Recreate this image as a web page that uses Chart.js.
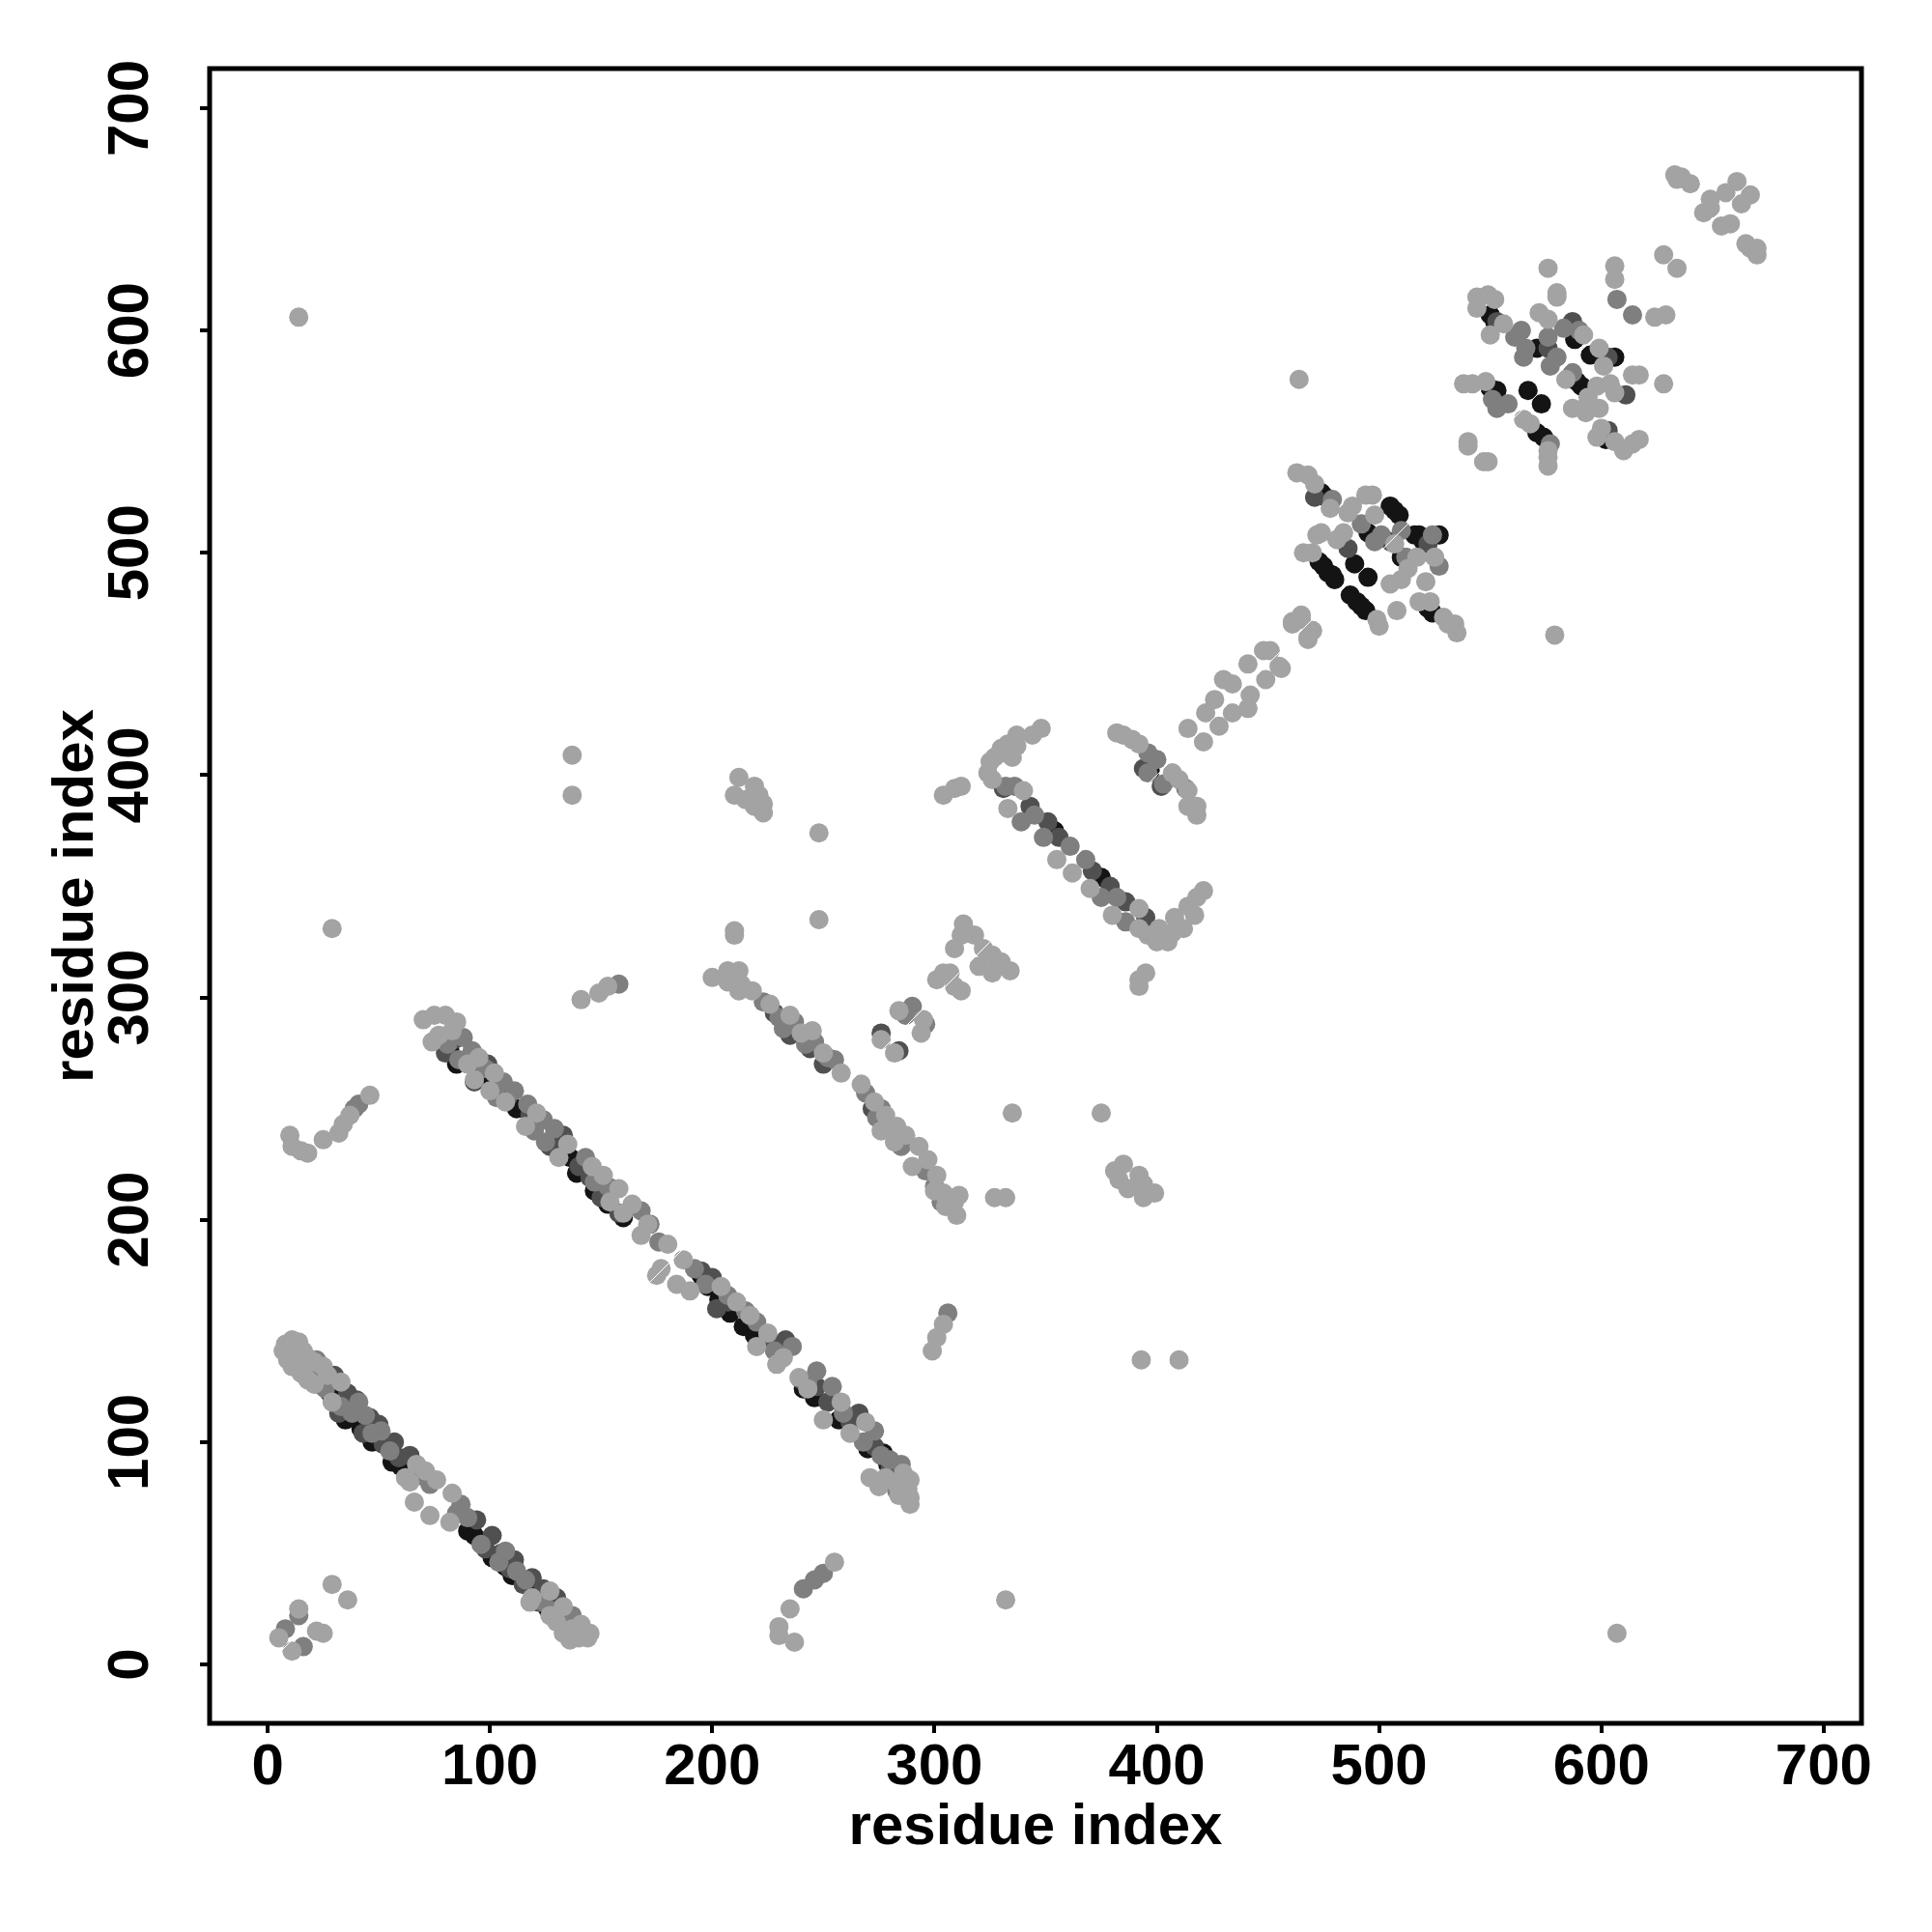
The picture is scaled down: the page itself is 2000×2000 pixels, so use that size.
<!DOCTYPE html>
<html>
<head>
<meta charset="utf-8">
<style>
  html, body { margin: 0; padding: 0; background: #fff; }
  canvas { display: block; }
</style>
<script src="https://cdn.jsdelivr.net/npm/chart.js@4/dist/chart.umd.min.js"></script>
</head>
<body>
<canvas id="contactMap" width="2000" height="2000"></canvas>
<script>
const tickValues = [0, 100, 200, 300, 400, 500, 600, 700];
const axisTitle = 'residue index';
const diagonalPoints = [[0, 0], [700, 700]];

// contacts, [residue x, residue y], grouped by shade
const lightPoints = [
  // corner + stray
  [5,12],[11,6],[14,25],[25,14],[22,15],[29,36],[36,29],[14,606],[607,14],[29,331],[332,29],
  [137,409],[137,391],[393,137],[410,137],[248,374],[248,335],[335,248],[375,248],[464,578],[579,463],
  // first band
  [7,141],[9,137],[8,144],[11,146],[14,145],[12,139],[11,134],[15,131],[16,141],[18,138],[21,136],[18,128],[21,126],
  [25,134],[27,130],[29,118],[33,127],[62,84],[67,90],[71,87],[76,83],[83,77],[66,73],[73,67],[82,64],[64,82],
  [127,33],[133,26],[141,18],[144,12],[140,12],[136,11],[133,14],[130,19],[127,22],[119,30],[145,14],[139,15],[137,16],[118,28],
  // second band
  [70,290],[75,292],[80,292],[85,289],[77,283],[74,280],[83,285],[95,273],[90,270],[93,263],[102,266],[100,258],[107,253],
  [121,248],[116,242],[135,234],[131,228],[146,224],[151,220],[158,214],[154,208],[164,207],[160,203],[171,198],[168,193],
  [180,189],[187,182],[177,178],[175,175],[184,171],[190,168],[204,170],[211,163],[217,157],[225,149],[220,143],[232,138],
  [229,135],[239,129],[243,124],[258,118],[269,109],[250,110],[262,104],[286,86],[289,83],[288,79],[289,75],[283,81],[278,84],
  [275,80],[271,84],[289,72],[284,76],
  // arcs next to the second band
  [10,238],[11,233],[15,231],[18,230],[25,236],[32,239],[34,243],[37,247],[46,256],[230,17],[230,13],[237,10],[235,25],[255,46],
  [141,299],[149,302],[153,305],[299,141],[301,147],[304,153],
  // third band
  [200,309],[207,312],[212,312],[207,307],[213,306],[212,303],[218,303],[226,297],[235,292],[245,285],[240,284],[250,275],
  [258,266],[267,261],[273,253],[278,247],[283,242],[282,235],[293,233],[297,227],[301,220],[304,212],[309,208],[310,202],
  [305,206],[311,211],[300,213],[287,238],[276,240],[290,224],
  // small islands
  [210,391],[212,399],[219,395],[215,389],[219,386],[223,387],[223,383],[221,391],[381,222],[385,225],[383,218],[387,214],
  [392,220],[394,216],[394,210],[399,212],[327,210],[332,210],[210,330],[210,328],
  [276,281],[284,294],[295,290],[294,284],[282,275],
  [301,308],[307,311],[313,333],[312,328],[309,322],[318,328],[322,322],[326,319],[330,316],[334,312],[320,314],[326,311],
  [312,303],[304,311],[309,305],[304,391],[309,394],[312,395],[392,305],[395,311],[392,308],
  // hairpin
  [348,421],[344,418],[337,418],[333,414],[330,412],[337,413],[335,408],[325,406],[324,401],[326,398],[332,410],[327,408],
  [340,393],[333,385],[355,362],[362,356],[370,349],[380,337],[392,340],[392,331],[396,328],[400,325],[405,325],
  [421,348],[418,345],[414,341],[417,337],[408,336],[412,331],[407,329],[401,331],
  [382,419],[385,418],[389,416],[392,414],[407,401],[414,393],[418,386],[414,386],[418,382],[410,398],
  // along the diagonal
  [414,421],[422,428],[421,415],[428,422],[426,434],[430,443],[434,441],[441,450],[448,456],[451,456],[434,428],[442,436],
  [441,430],[449,443],[456,448],[455,449],[461,469],[465,470],[468,462],[470,465],[461,468],[465,472],[470,465],[468,461],
  // block at 500
  [463,536],[468,535],[471,531],[478,520],[488,521],[486,518],[494,526],[497,526],[498,517],[474,509],[472,508],[484,509],[481,506],
  [466,500],[470,500],[499,470],[500,467],[508,474],[507,504],[513,493],[505,486],[510,488],[517,498],[525,498],[521,487],[518,478],
  [523,478],[529,471],[534,468],[535,464],[531,468],[540,548],[547,541],[540,550],[549,541],
  // block at 580
  [538,576],[542,576],[548,577],[549,616],[544,615],[552,614],[544,610],[556,603],[550,598],[568,558],[576,546],[576,539],[576,543],
  [572,608],[576,605],[580,615],[580,617],[576,628],[592,598],[599,592],[601,584],[584,578],[598,575],[604,576],[606,572],[614,580],
  [617,580],[628,576],[587,565],[592,565],[599,565],[594,570],[593,563],[600,556],[606,550],[614,549],[610,546],[598,552],[617,551],
  [606,629],[606,623],[628,634],[634,628],[624,606],[629,607],[565,560],
  // top right
  [633,670],[636,669],[640,666],[634,668],[661,667],[656,662],[667,661],[663,657],[649,659],[646,653],[649,655],[654,647],[658,648],
  [670,637],[665,639],[670,634],[667,637]
];

const midPoints = [
  [8,16],[16,8],[14,22],[13,137],[22,137],[20,131],[23,126],[26,124],[38,113],[33,116],[41,118],[44,112],[47,104],[51,105],[55,96],
  [68,85],[73,81],[87,72],[90,66],[85,68],[107,51],[104,46],[112,42],[116,38],[124,28],[137,22],[128,24],[131,20],[96,54],
  [88,282],[81,279],[92,276],[86,272],[98,268],[106,262],[111,258],[103,255],[117,252],[124,245],[129,241],[120,240],[125,235],
  [143,228],[147,217],[153,215],[168,204],[172,198],[176,190],[192,178],[197,171],[207,166],[215,159],[220,154],[236,143],[228,141],
  [247,132],[254,125],[243,127],[259,113],[273,105],[268,100],[280,92],[285,90],[276,94],[283,78],
  [39,250],[41,252],[241,34],[246,38],[250,41],[158,306],[306,158],
  [223,298],[230,291],[232,286],[237,289],[246,280],[242,279],[252,273],[255,272],[269,257],[276,250],[274,246],[280,240],[285,233],
  [296,222],[300,215],[303,208],
  [290,296],[287,292],[296,288],[339,379],[345,382],[361,368],[368,362],[375,345],[382,345],[386,334],[349,372],
  [396,410],[400,407],[396,401],[403,396],[413,394],[332,395],[336,395],
  [479,524],[510,510],[524,508],[501,508],[498,505],[492,513],[527,494],[512,498],
  [558,567],[551,569],[553,565],[564,600],[561,597],[565,588],[566,592],[576,597],[580,588],[577,584],[577,549],[583,601],
  [607,614],[614,607],[587,581],[590,600]
];

const darkPoints = [
  [25,125],[30,130],[36,122],[40,119],[32,113],[46,111],[50,108],[43,104],[57,100],[52,99],[64,94],[59,93],[94,65],[101,58],[111,47],
  [119,39],[105,50],[98,52],[109,43],[115,36],[124,34],[130,30],[122,28],
  [84,281],[80,275],[99,270],[93,262],[108,255],[118,247],[130,239],[133,238],[127,233],[145,219],[155,214],[150,210],[140,224],
  [158,203],[195,177],[200,174],[207,163],[202,160],[233,146],[225,147],[240,128],[247,125],[252,118],[266,113],[262,109],[273,98],[280,88],
  [228,293],[235,283],[244,277],[250,270],[272,250],[283,236],
  [276,284],[284,276],
  [343,386],[351,379],[356,372],[371,357],[379,350],[386,343],[395,336],[394,403],[402,395],[331,394],
  [471,525],[486,502],[522,504],[505,505],[553,604],[603,588],[603,555],[587,604],[611,571],[576,592]
];

const blackPoints = [
  [28,122],[35,110],[42,106],[47,100],[56,91],[60,89],[64,87],[90,60],[93,58],[97,54],[101,48],[107,44],[110,40],[121,31],[126,25],
  [82,276],[85,270],[97,265],[104,257],[112,250],[136,228],[142,225],[139,221],[147,213],[153,207],[160,201],[195,175],[198,170],
  [203,164],[208,158],[214,152],[219,148],[241,124],[246,120],[257,110],[270,97],[277,95],[279,90],
  [354,375],[375,354],[397,402],
  [474,527],[476,525],[505,521],[509,517],[507,519],[516,508],[518,508],[495,509],[473,496],[475,494],[477,491],[480,488],[479,490],
  [489,495],[495,489],[487,481],[490,478],[492,476],[494,474],[510,498],[522,475],[524,473],[527,508],[520,505],
  [550,574],[553,573],[550,607],[552,604],[567,573],[573,567],[571,592],[571,554],[574,552],[588,596],[595,589],[591,575],[589,577],
  [602,551],[606,588]
];

const toXY = ([x, y]) => ({ x, y });

const shade = (label, points, color) => ({
  type: 'scatter',
  label,
  data: points.map(toXY),
  backgroundColor: color,
  borderWidth: 0,
  pointRadius: 10,
  pointHoverRadius: 10
});

const axisFont = { family: '"Liberation Sans"', size: 60, weight: 'bold' };

// box around the plot, R style
const frame = {
  id: 'frame',
  afterDraw(chart) {
    const { ctx, chartArea: a } = chart;
    ctx.save();
    ctx.strokeStyle = '#000';
    ctx.lineWidth = 5;
    ctx.strokeRect(a.left, a.top, a.right - a.left, a.bottom - a.top);
    ctx.restore();
  }
};

const ctx = document.getElementById('contactMap').getContext('2d');
const contactMap = new Chart(ctx, {
  data: {
    datasets: [
      {
        type: 'line',
        label: 'diagonal',
        data: diagonalPoints.map(toXY),
        borderColor: '#fff',
        borderWidth: 1,
        pointRadius: 0
      },
      shade('light', lightPoints, '#a3a3a3'),
      shade('mid', midPoints, '#7f7f7f'),
      shade('dark', darkPoints, '#505050'),
      shade('black', blackPoints, '#141414')
    ]
  },
  options: {
    responsive: false,
    animation: false,
    layout: { padding: { top: 71, right: 73, left: 0, bottom: 0 } },
    plugins: { legend: { display: false }, tooltip: { enabled: false } },
    scales: {
      x: {
        type: 'linear',
        min: -26.1,
        max: 717,
        afterFit: (scale) => { scale.height = 216; },
        afterBuildTicks: (scale) => { scale.ticks = tickValues.map((value) => ({ value })); },
        grid: { drawOnChartArea: false, color: '#000', lineWidth: 4, tickLength: 10 },
        border: { display: false },
        ticks: { color: '#000', font: axisFont, padding: 0, maxRotation: 0, autoSkip: false },
        title: { display: true, text: axisTitle, color: '#000', font: axisFont, padding: { top: 0, bottom: 72 } }
      },
      y: {
        type: 'linear',
        min: -26.5,
        max: 717.8,
        afterFit: (scale) => { scale.width = 217; },
        afterBuildTicks: (scale) => { scale.ticks = tickValues.map((value) => ({ value })); },
        grid: { drawOnChartArea: false, color: '#000', lineWidth: 4, tickLength: 10 },
        border: { display: false },
        ticks: { color: '#000', font: axisFont, padding: 20, minRotation: 90, maxRotation: 90, crossAlign: 'center', autoSkip: false },
        title: { display: true, text: axisTitle, color: '#000', font: axisFont, padding: { top: 43, bottom: 0 } }
      }
    }
  },
  plugins: [frame]
});
</script>
</body>
</html>
